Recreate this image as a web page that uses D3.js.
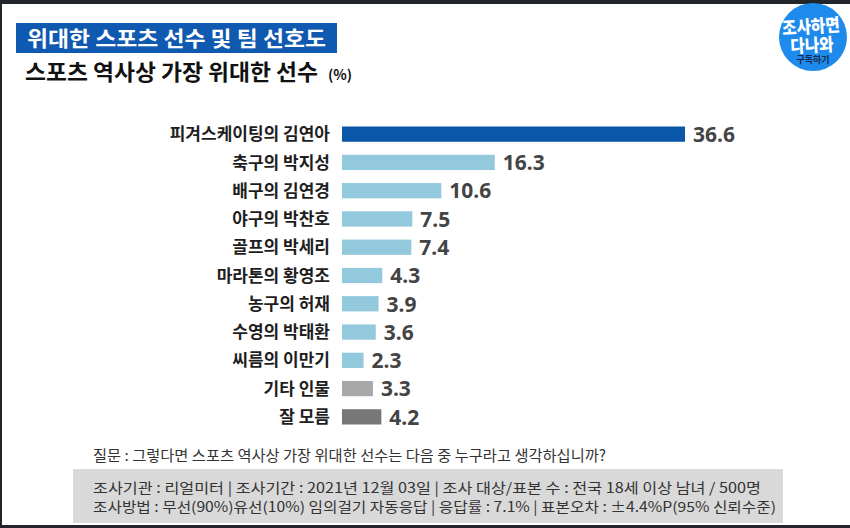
<!DOCTYPE html>
<html><head><meta charset="utf-8">
<script src="https://cdn.jsdelivr.net/npm/d3@7"></script>
<style>
html,body{margin:0;padding:0;background:#fff;}
svg{display:block;font-family:"Noto Sans CJK KR","Noto Sans",sans-serif;}
</style></head>
<body>
<script>
const categories = ["피겨스케이팅의 김연아","축구의 박지성","배구의 김연경","야구의 박찬호","골프의 박세리","마라톤의 황영조","농구의 허재","수영의 박태환","씨름의 이만기","기타 인물","잘 모름"];
const values = [36.6,16.3,10.6,7.5,7.4,4.3,3.9,3.6,2.3,3.3,4.2];
const groups = ["top","player","player","player","player","player","player","player","player","other","unknown"];
const titleText = "위대한 스포츠 선수 및 팀 선호도";
const subtitleText = "스포츠 역사상 가장 위대한 선수";
const unitText = "(%)";
const questionText = "질문 : 그렇다면 스포츠 역사상 가장 위대한 선수는 다음 중 누구라고 생각하십니까?";
const infoLines = ["조사기관 : 리얼미터  |  조사기간 : 2021년 12월 03일  |  조사 대상/표본 수 : 전국 18세 이상 남녀 / 500명",
                   "조사방법 : 무선(90%)유선(10%) 임의걸기 자동응답  |  응답률 : 7.1%  |  표본오차 : ±4.4%P(95% 신뢰수준)"];
const logoLines = ["조사하면","다나와","구독하기"];

const W = 850, H = 528;
const svg = d3.select("body").append("svg").attr("width", W).attr("height", H);

// frame
svg.append("rect").attr("x",0).attr("y",0).attr("width",W).attr("height",H).attr("fill","#fff");
svg.append("rect").attr("x",0).attr("y",0).attr("width",W).attr("height",4).attr("fill","#22262a");
svg.append("rect").attr("x",0).attr("y",0).attr("width",2).attr("height",H).attr("fill","#22262a");
svg.append("rect").attr("x",0).attr("y",525).attr("width",W).attr("height",3).attr("fill","#22262a");

// title box
svg.append("rect").attr("x",16).attr("y",23).attr("width",321).attr("height",30).attr("fill","#1059b0");
svg.append("text").attr("x",27).attr("y",46).attr("fill","#fff").attr("font-size",21).attr("font-weight",700)
  .attr("textLength",299).attr("lengthAdjust","spacingAndGlyphs").text(titleText);

// subtitle
svg.append("text").attr("x",25).attr("y",80).attr("fill","#111").attr("font-size",22).attr("font-weight",700)
  .attr("textLength",293).attr("lengthAdjust","spacingAndGlyphs").text(subtitleText);
svg.append("text").attr("x",328).attr("y",80).attr("fill","#111").attr("font-size",14).attr("font-weight",700).text(unitText);

// logo
const logo = svg.append("g");
logo.append("circle").attr("cx",813).attr("cy",37).attr("r",34).attr("fill","#1d8aec");
logo.append("text").attr("x",811).attr("y",33).attr("text-anchor","middle").attr("fill","#fff").attr("font-size",18).attr("font-weight",900)
  .attr("transform","rotate(-4 811 28)").attr("textLength",58).attr("lengthAdjust","spacingAndGlyphs").text(logoLines[0]);
logo.append("text").attr("x",812).attr("y",52).attr("text-anchor","middle").attr("fill","#fff").attr("font-size",18).attr("font-weight",900)
  .attr("transform","rotate(-3 812 46)").attr("textLength",43).attr("lengthAdjust","spacingAndGlyphs").text(logoLines[1]);
logo.append("text").attr("x",813).attr("y",63).attr("text-anchor","middle").attr("fill","#17284a").attr("font-size",9).attr("font-weight",700)
  .text(logoLines[2]);

// bars
const x = d3.scaleLinear().domain([0, 36.6]).range([342, 685]);
const y = d3.scaleBand().domain(categories).range([120, 431]).paddingInner(0.46).paddingOuter(0.23);
const color = d3.scaleOrdinal().domain(["top","player","other","unknown"]).range(["#0a56a8","#92c9dc","#a8a8a8","#777777"]);

const data = categories.map((c,i)=>({c, v:values[i], g:groups[i]}));

svg.append("g").selectAll("rect").data(data).join("rect")
  .attr("x", x(0)).attr("y", d=>y(d.c)).attr("width", d=>x(d.v)-x(0)).attr("height", y.bandwidth())
  .attr("fill", d=>color(d.g));

svg.append("g").selectAll("text").data(data).join("text")
  .attr("x", 330).attr("y", d=>y(d.c)+y.bandwidth()/2).attr("dy","0.36em")
  .attr("text-anchor","end").attr("font-size",17).attr("font-weight",700).attr("fill","#1e1e1e")
  .text(d=>d.c);

svg.append("g").selectAll("text").data(data).join("text")
  .attr("x", d=>x(d.v)+8).attr("y", d=>y(d.c)+y.bandwidth()/2).attr("dy","0.37em")
  .attr("font-family","'Noto Sans',sans-serif")
  .attr("font-size",21).attr("font-weight",700).attr("fill","#444")
  .text(d=>d3.format(".1f")(d.v));

// footnote
svg.append("text").attr("x",93).attr("y",461).attr("font-size",15).attr("fill","#333")
  .attr("textLength",513).attr("lengthAdjust","spacingAndGlyphs").text(questionText);
svg.append("rect").attr("x",73).attr("y",469).attr("width",710).attr("height",54).attr("fill","#d9d9d9");
const infoW = [668, 683];
svg.append("g").selectAll("text").data(infoLines).join("text")
  .attr("x",93).attr("y",(d,i)=>493+i*19).attr("font-size",14).attr("fill","#333")
  .attr("textLength",(d,i)=>infoW[i]).attr("lengthAdjust","spacingAndGlyphs")
  .text(d=>d);
</script>
</body></html>
